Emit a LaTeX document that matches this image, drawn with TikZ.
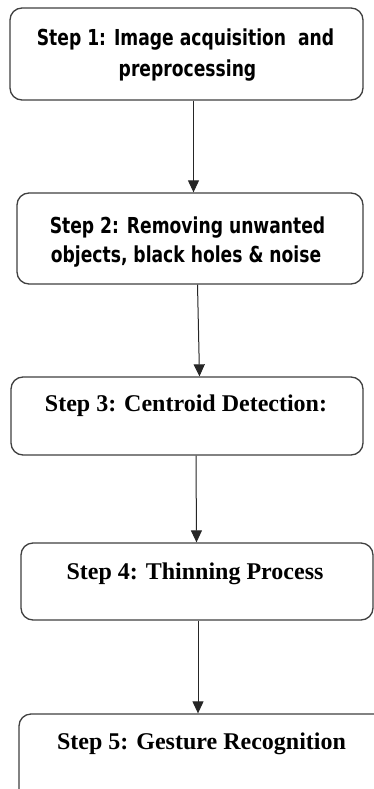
\documentclass[tikz,border=0pt]{standalone}
\usepackage{fontspec}
\setmainfont{Liberation Serif}
\newfontfamily\boxsans[FakeStretch=0.78]{DejaVu Sans}
\usetikzlibrary{arrows.meta}
\tikzset{
  stepbox/.style={draw=black!75, line width=1.3pt, rounded corners=12pt, inner sep=0pt},
  sanslbl/.style={font=\boxsans\bfseries\fontsize{22}{26}\selectfont, anchor=base, inner sep=0pt},
  seriflbl/.style={font=\bfseries\fontsize{24}{28}\selectfont, anchor=base, inner sep=0pt},
  arr/.style={draw=black!85, line width=1pt, -{Triangle[length=12pt,width=11pt]}}
}
\begin{document}
\begin{tikzpicture}[x=1pt,y=1pt]
\useasboundingbox (0,0) rectangle (374,-789);
\clip (0,0) rectangle (374,-789);
\fill[white] (0,0) rectangle (374,-789);
% boxes
\node[stepbox, minimum width=353pt, minimum height=92pt] (b1) at (186.5,-54) {};
\node[stepbox, minimum width=346pt, minimum height=91pt] (b2) at (190,-238.5) {};
\node[stepbox, minimum width=352pt, minimum height=78pt] (b3) at (187,-416) {};
\node[stepbox, minimum width=352pt, minimum height=77pt] (b4) at (197,-581.5) {};
\node[stepbox, minimum width=372pt, minimum height=100pt] (b5) at (205,-764) {};
% labels
\node[sanslbl] (t1a) at (185.5,-46) {Step 1: Image acquisition~ and};
\node[sanslbl] (t1b) at (187.5,-77) {preprocessing};
\node[sanslbl] (t2a) at (187.5,-233) {Step 2: Removing unwanted};
\node[sanslbl] (t2b) at (186,-262) {objects, black holes \& noise};
\node[seriflbl] (t3) at (186,-411) {Step 3: Centroid Detection:};
\node[seriflbl] (t4) at (195,-579) {Step 4: Thinning Process};
\node[seriflbl] (t5) at (201.5,-749) {Step 5: Gesture Recognition};
% connectors
\draw[arr] ([xshift=7pt]b1.south) -- ([xshift=3.5pt]b2.north);
\draw[arr] ([xshift=7.5pt]b2.south) -- ([xshift=9.5pt]b2.south |- b3.north);
\draw[arr] ([xshift=9pt]b3.south) -- ([xshift=-0.5pt]b4.north);
\draw[arr] ([xshift=1pt]b4.south) -- ([xshift=-7pt]b5.north);
\end{tikzpicture}
\end{document}
